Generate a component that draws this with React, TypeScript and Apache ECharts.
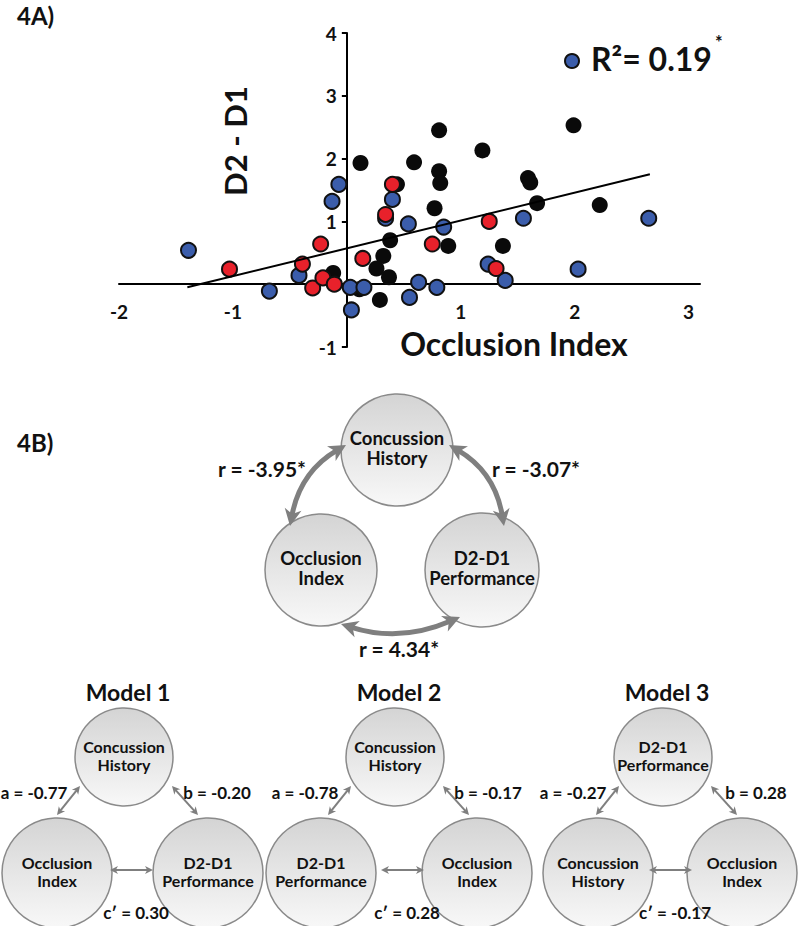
import React, { useEffect, useRef } from "react";
import * as echarts from "echarts";

// ---------- Data (4A scatter) ----------
const blackX = [0.12, 0.59, 0.81, 1.19, 0.81, 0.82, 0.77, 0.38, 0.32, 0.26, 0.37, 0.29, 0.11, -0.12, 0.44, 0.89, 1.37, 1.59, 1.61, 1.67, 1.99, 2.22];
const blackY = [1.93, 1.94, 2.45, 2.13, 1.80, 1.61, 1.21, 0.70, 0.45, 0.25, 0.11, -0.25, -0.08, 0.18, 1.59, 0.61, 0.61, 1.69, 1.62, 1.29, 2.53, 1.26];
const blueX = [-1.39, -0.68, -0.42, -0.13, -0.07, 0.03, 0.04, 0.15, 0.34, 0.40, 0.54, 0.85, 0.63, 0.55, 0.79, 1.24, 1.39, 1.55, 2.03, 2.65];
const blueY = [0.54, -0.11, 0.14, 1.32, 1.59, -0.05, -0.41, -0.05, 1.05, 1.35, 0.96, 0.91, 0.03, -0.21, -0.05, 0.32, 0.06, 1.05, 0.24, 1.05];
const redX = [-1.03, -0.39, -0.23, -0.30, -0.21, -0.11, 0.14, 0.34, 0.40, 0.75, 1.25, 1.31];
const redY = [0.24, 0.32, 0.64, -0.06, 0.10, 0.00, 0.41, 1.11, 1.59, 0.64, 1.00, 0.25];
const fitX = [-1.4, 2.66];
const fitY = [-0.05, 1.75];
const xTickLabels = [-2, -1, 1, 2, 3];
const yTickLabels = [-1, 1, 2, 3, 4];
const xMin = -2, xMax = 3.1, yMin = -1, yMax = 4;
const r2Text = "R\u00B2= 0.19";
const panelA = "4A)";
const panelB = "4B)";
const yName = "D2 - D1";
const xName = "Occlusion Index";

// ---------- Data (4B diagrams) ----------
const triNodes = [["Concussion", "History"], ["Occlusion", "Index"], ["D2-D1", "Performance"]];
const triCorr = ["r = -3.95*", "r = -3.07*", "r = 4.34*"];
const modelNames = ["Model 1", "Model 2", "Model 3"];
const modelTop = [["Concussion", "History"], ["Concussion", "History"], ["D2-D1", "Performance"]];
const modelLeft = [["Occlusion", "Index"], ["D2-D1", "Performance"], ["Concussion", "History"]];
const modelRight = [["D2-D1", "Performance"], ["Occlusion", "Index"], ["Occlusion", "Index"]];
const aVals = ["a = -0.77", "a = -0.78", "a = -0.27"];
const bVals = ["b = -0.20", "b = -0.17", "b = 0.28"];
const cVals = ["c\u2032 = 0.30", "c\u2032 = 0.28", "c\u2032 = -0.17"];

const FONT = "Lato, 'Open Sans', sans-serif";
const INK = "#111111";
const BLUE = "#3b5dab";
const RED = "#e8212b";
const ARROW = "#7f7f7f";

// grid geometry (pixels)
const GL = 119, GR = 100, GT = 33, GB = 579;
const GW = 800 - GL - GR;
const GH = 926 - GT - GB;

function zip(a: number[], b: number[]) {
  return a.map((v, i) => [v, b[i]]);
}

function txt(x: number, y: number, text: string, size: number, align = "center", extra: any = {}) {
  return {
    type: "text",
    x,
    y,
    z: 10,
    ...extra,
    style: {
      text,
      fill: INK,
      fontSize: size,
      fontWeight: "bold",
      fontFamily: FONT,
      align,
      verticalAlign: "middle",
    },
  };
}

function node(cx: number, cy: number, r: number, lines: string[], size: number, gap: number) {
  return [
    {
      type: "circle",
      z: 5,
      shape: { cx, cy, r },
      style: {
        fill: new echarts.graphic.LinearGradient(0, 0, 0, 1, [
          { offset: 0, color: "#d4d4d4" },
          { offset: 1, color: "#f8f8f8" },
        ]),
        stroke: "#8a8a8a",
        lineWidth: 1.5,
      },
    },
    txt(cx, cy - 2 - gap / 2, lines[0], size),
    txt(cx, cy - 2 + gap / 2, lines[1], size),
  ];
}

function norm(x: number, y: number) {
  const l = Math.hypot(x, y) || 1;
  return [x / l, y / l];
}

function head(px: number, py: number, d: number[], hl: number, hw: number) {
  const n = [-d[1], d[0]];
  const bx = px - d[0] * hl;
  const by = py - d[1] * hl;
  return {
    type: "polygon",
    z: 6,
    shape: {
      points: [
        [px, py],
        [bx + (n[0] * hw) / 2, by + (n[1] * hw) / 2],
        [px - d[0] * hl * 0.72, py - d[1] * hl * 0.72],
        [bx - (n[0] * hw) / 2, by - (n[1] * hw) / 2],
      ],
    },
    style: { fill: ARROW },
  };
}

function arrow(p0: number[], cp: number[], p1: number[], w: number, hl: number, hw: number) {
  const d1 = norm(p1[0] - cp[0], p1[1] - cp[1]);
  const d0 = norm(p0[0] - cp[0], p0[1] - cp[1]);
  const s = hl * 0.6;
  return [
    {
      type: "bezierCurve",
      z: 6,
      shape: {
        x1: p0[0] - d0[0] * s,
        y1: p0[1] - d0[1] * s,
        x2: p1[0] - d1[0] * s,
        y2: p1[1] - d1[1] * s,
        cpx1: cp[0],
        cpy1: cp[1],
      },
      style: { stroke: ARROW, lineWidth: w, fill: "none" },
    },
    head(p0[0], p0[1], d0, hl, hw),
    head(p1[0], p1[1], d1, hl, hw),
  ];
}

function buildGraphics() {
  const g: any[] = [];
  // Panel labels & axis names
  g.push(txt(17, 15, panelA, 24, "left"));
  g.push(txt(17, 442, panelB, 24, "left"));
  g.push(txt(235, 141, yName, 31, "center", { rotation: Math.PI / 2 }));
  g.push(txt(514, 343, xName, 32));
  // R² legend
  g.push({
    type: "circle",
    z: 10,
    shape: { cx: 572, cy: 61, r: 7 },
    style: { fill: BLUE, stroke: INK, lineWidth: 2 },
  });
  g.push(txt(591, 58, r2Text, 32, "left"));
  g.push(txt(715, 42, "*", 18, "left"));

  // Triangle diagram
  g.push(...node(397, 450, 56, triNodes[0], 18.5, 20.5));
  g.push(...node(321, 570, 56, triNodes[1], 18.5, 20.5));
  g.push(...node(482, 570, 57, triNodes[2], 18.5, 20.5));
  g.push(...arrow([346, 445], [300, 472], [290, 526], 5, 17, 17));
  g.push(...arrow([449, 445], [495, 472], [504, 526], 5, 17, 17));
  g.push(...arrow([341, 624], [400, 643], [460, 617], 5, 17, 17));
  g.push(txt(262, 468, triCorr[0], 21));
  g.push(txt(536, 468, triCorr[1], 21));
  g.push(txt(399, 648, triCorr[2], 21));

  // Models
  const tops = [124, 395, 663];
  const lefts = [57, 321, 598];
  const rights = [208, 477, 742];
  for (let i = 0; i < 3; i++) {
    const T = tops[i];
    g.push(txt(T + 4, 692, modelNames[i], 23));
    g.push(...node(T, 757, 49, modelTop[i], 16, 18));
    g.push(...node(lefts[i], 873, 55, modelLeft[i], 16, 18));
    g.push(...node(rights[i], 873, 55, modelRight[i], 16, 18));
    const l0 = [T - 44, 786], l1 = [T - 67, 815];
    g.push(...arrow(l0, [(l0[0] + l1[0]) / 2, (l0[1] + l1[1]) / 2], l1, 2, 8, 8));
    const r0 = [T + 48, 786], r1 = [T + 74, 815];
    g.push(...arrow(r0, [(r0[0] + r1[0]) / 2, (r0[1] + r1[1]) / 2], r1, 2, 8, 8));
    const c0 = [T - 14, 870], c1 = [T + 29, 870];
    g.push(...arrow(c0, [(c0[0] + c1[0]) / 2, 870], c1, 2, 8, 8));
    g.push(txt(T - 90, 792, aVals[i], 17));
    g.push(txt(T + 93, 792, bVals[i], 17));
    g.push(txt(T + 12, 912, cVals[i], 17));
  }
  return g;
}

export default function App() {
  const ref = useRef<HTMLDivElement>(null);
  useEffect(() => {
    if (!ref.current) return;
    const chart = echarts.init(ref.current, null, { renderer: "svg" });
    const labelStyle = {
      fontSize: 19,
      fontWeight: "bold",
      fontFamily: FONT,
      color: INK,
    };
    // place axes on the zero of the other axis
    const xOffset = -((0 - yMin) / (yMax - yMin)) * GH;
    const yOffset = -((0 - xMin) / (xMax - xMin)) * GW;
    chart.setOption({
      animation: false,
      backgroundColor: "#ffffff",
      grid: { left: GL, right: GR, top: GT, bottom: GB },
      xAxis: {
        type: "value",
        min: xMin,
        max: xMax,
        interval: 1,
        offset: xOffset,
        axisLine: { onZero: false, lineStyle: { color: "#000", width: 2 } },
        axisTick: { show: false },
        splitLine: { show: false },
        axisLabel: {
          ...labelStyle,
          margin: 18,
          formatter: (v: number) => (xTickLabels.some((t) => Math.abs(t - v) < 1e-6) ? String(v) : ""),
        },
      },
      yAxis: {
        type: "value",
        min: yMin,
        max: yMax,
        interval: 1,
        offset: yOffset,
        axisLine: { show: true, onZero: false, lineStyle: { color: "#000", width: 2 } },
        axisTick: { show: true, length: 5, lineStyle: { color: "#000", width: 2 } },
        splitLine: { show: false },
        axisLabel: {
          ...labelStyle,
          margin: 10,
          formatter: (v: number) => (yTickLabels.some((t) => Math.abs(t - v) < 1e-6) ? String(v) : ""),
        },
      },
      series: [
        {
          type: "scatter",
          data: zip(blackX, blackY),
          symbolSize: 16,
          itemStyle: { color: "#0a0a0a", opacity: 1 },
          z: 2,
        },
        {
          type: "scatter",
          data: zip(blueX, blueY),
          symbolSize: 15,
          itemStyle: { color: BLUE, borderColor: INK, borderWidth: 2, opacity: 1 },
          z: 3,
        },
        {
          type: "scatter",
          data: zip(redX, redY),
          symbolSize: 15,
          itemStyle: { color: RED, borderColor: INK, borderWidth: 2, opacity: 1 },
          z: 4,
        },
        {
          type: "line",
          data: zip(fitX, fitY),
          showSymbol: false,
          symbol: "none",
          lineStyle: { color: "#000", width: 2 },
          z: 5,
        },
      ],
      graphic: buildGraphics(),
    });
    return () => chart.dispose();
  }, []);
  return (
    <div
      ref={ref}
      style={{ position: "absolute", left: 0, top: 0, width: 800, height: 926 }}
    />
  );
}
